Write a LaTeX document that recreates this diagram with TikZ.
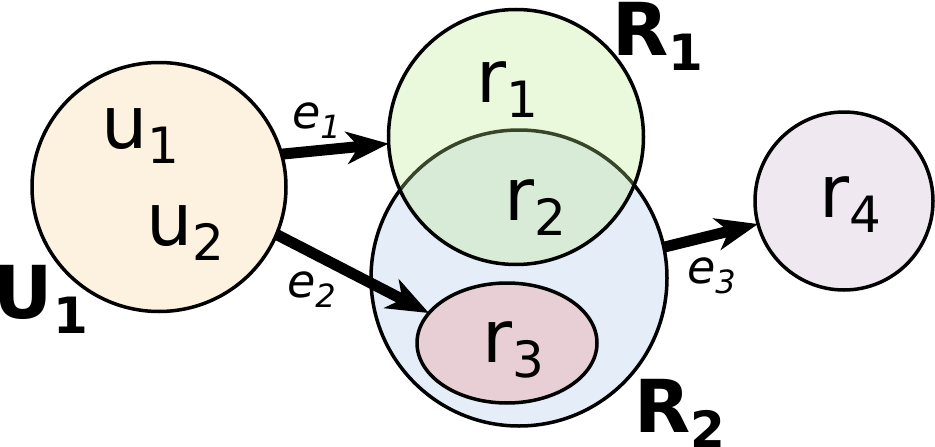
\documentclass[tikz,border=0pt]{standalone}
\usepackage{fontspec}
\setmainfont{DejaVu Sans}
\usetikzlibrary{shapes.geometric,arrows.meta}
\definecolor{ucol}{RGB}{253,241,224}
\definecolor{ronecol}{RGB}{185,232,138}
\definecolor{rtwocol}{RGB}{229,237,248}
\definecolor{rthreecol}{RGB}{232,206,213}
\definecolor{rfourcol}{RGB}{240,232,240}
\newcommand{\lab}[2]{{\fontsize{73}{73}\selectfont #1}\raisebox{-15pt}{\fontsize{50}{50}\selectfont #2}}
\newcommand{\blab}[2]{{\fontsize{73}{73}\selectfont\bfseries #1}\raisebox{-15pt}{\fontsize{50}{50}\selectfont\bfseries #2}}
\newcommand{\elab}[2]{{\fontsize{46}{46}\selectfont\itshape #1}\raisebox{-10pt}{\fontsize{32}{32}\selectfont\itshape #2}}
\begin{document}
\begin{tikzpicture}[x=1pt,y=-1pt,
  setshape/.style={draw=black,line width=3.5pt,inner sep=0pt,outer sep=0pt},
  arr/.style={line width=11pt,-{Stealth[length=42pt,width=32pt,inset=12pt]}},
  txt/.style={anchor=base west,inner sep=0pt,outer sep=0pt}]
\useasboundingbox (0,0) rectangle (935,447);
% sets
\node[setshape,circle,fill=rtwocol,minimum size=296pt] (R2) at (519,278) {};
\node[setshape,circle,fill=ronecol,fill opacity=0.3,minimum size=255pt] (R1) at (516,137) {};
\node[setshape,ellipse,fill=rthreecol,minimum width=180pt,minimum height=120pt] (r3) at (507,343) {};
\node[setshape,circle,fill=rfourcol,minimum size=178pt] (r4) at (844,201) {};
\node[setshape,ellipse,fill=ucol,minimum width=254pt,minimum height=249pt] (U1) at (159,187) {};
% arrows
\draw[arr] (U1.15) -- (R1.183);
\draw[arr] (U1.-22) -- (r3.159);
\draw[arr] (R2.12) -- (r4.195);
% labels
\node[txt] (lu1) at (101,148) {\lab{u}{1}};
\node[txt] (lu2) at (146,245) {\lab{u}{2}};
\node[txt] (lr1) at (476,102) {\lab{r}{1}};
\node[txt] (lr2) at (504,220) {\lab{r}{2}};
\node[txt] (lr3) at (482,362) {\lab{r}{3}};
\node[txt] (lr4) at (819,217) {\lab{r}{4}};
\node[txt] (lU1) at (-6,318) {\blab{U}{1}};
\node[txt] (lR1) at (612,55) {\blab{R}{1}};
\node[txt] (lR2) at (634,432) {\blab{R}{2}};
\node[txt] (le1) at (292,128) {\elab{e}{1}};
\node[txt] (le2) at (287,297) {\elab{e}{2}};
\node[txt] (le3) at (687,283) {\elab{e}{3}};
\end{tikzpicture}
\end{document}
